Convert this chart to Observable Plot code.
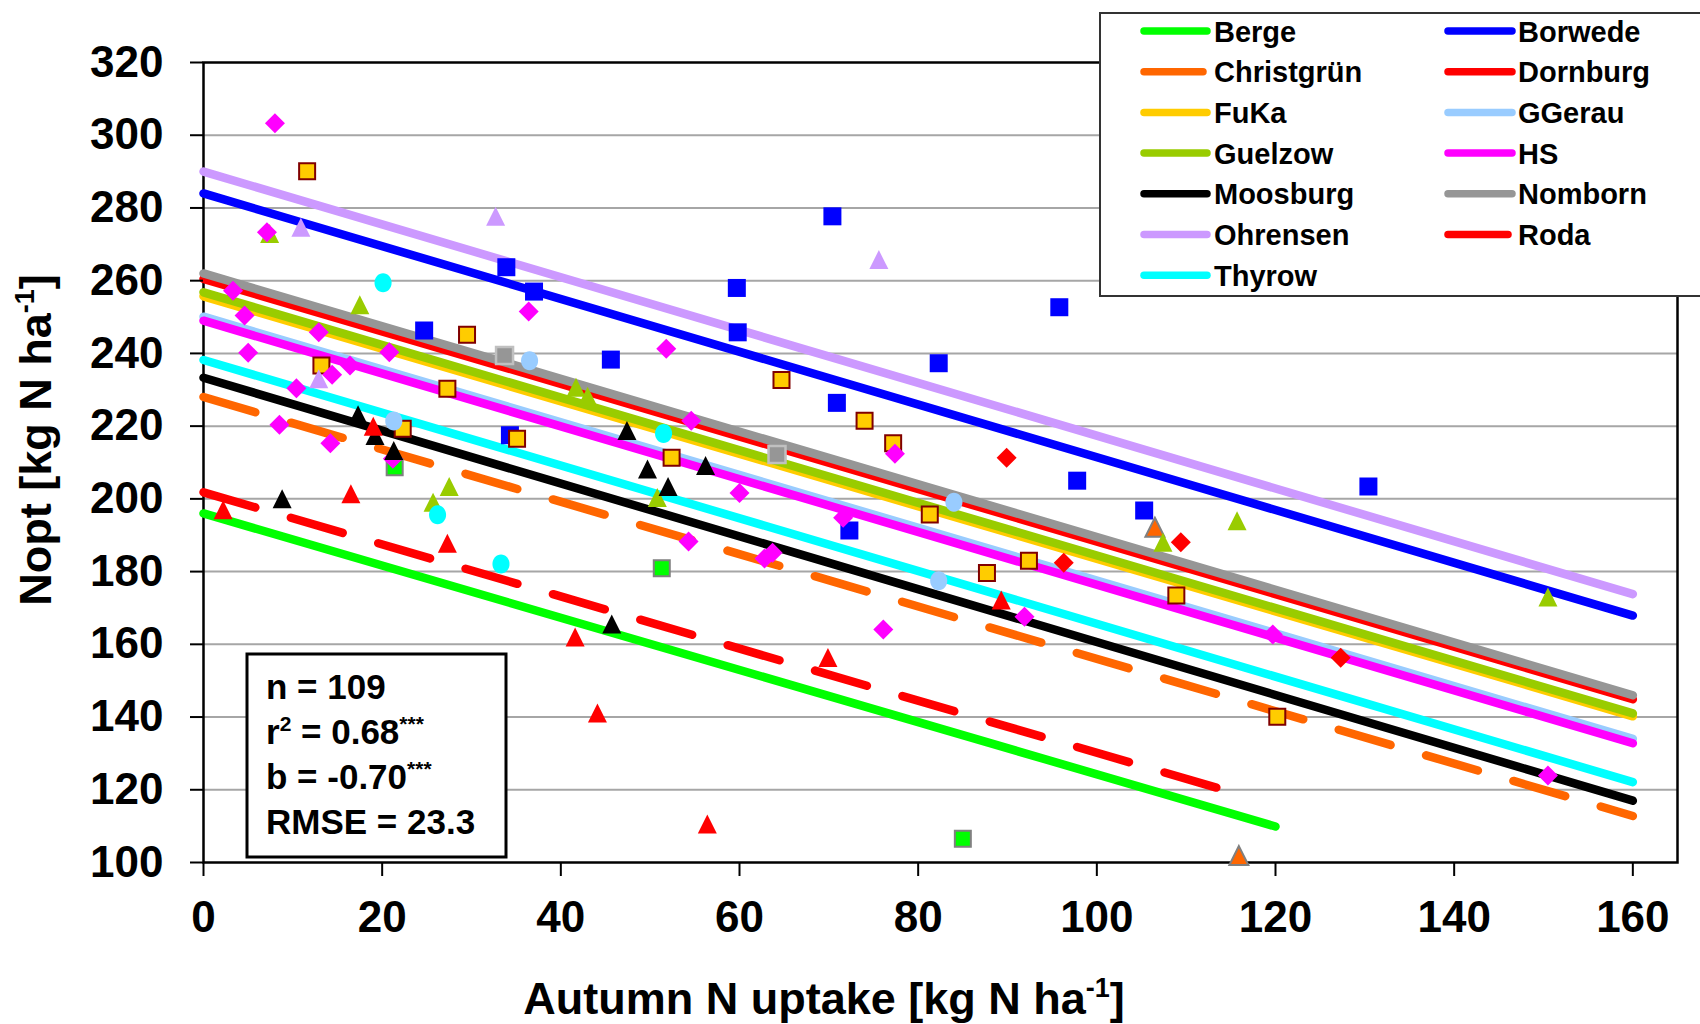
<!DOCTYPE html>
<html><head><meta charset="utf-8">
<script src="https://cdn.jsdelivr.net/npm/d3@7"></script>
<script src="https://cdn.jsdelivr.net/npm/@observablehq/plot@0.6"></script>
<style>
html,body{margin:0;padding:0;background:#fff;}
#chart svg{display:block;}
#chart svg text{font-weight:bold;}
</style></head><body><div id="chart"></div>
<script>
// ---- data ----
const sites = ["Berge","Borwede","Christgrün","Dornburg","FuKa","GGerau","Guelzow","HS","Moosburg","Nomborn","Ohrensen","Roda","Thyrow"];
// fitted lines: value at x = 0, end x, value at end x (same order as sites)
const lineStartY = [196.0, 284.0, 228.0, 260.5, 255.7, 250.1, 256.8, 249.0, 233.3, 262.0, 290.0, 201.8, 238.2];
const lineEndX   = [120, 160, 160, 160, 160, 160, 160, 160, 160, 160, 160, 117, 160];
const lineEndY   = [109.9, 167.9, 112.8, 144.9, 140.2, 134.0, 141.0, 132.8, 117.0, 146.0, 173.8, 118.0, 122.1];

const ptsBerge = [[21.4,208.7],[51.3,180.9],[85.0,106.5]];
const ptsBorwede = [[24.7,246.3],[33.9,263.7],[34.3,217.5],[37.0,257.0],[45.6,238.3],[59.7,258.0],[59.8,245.8],[70.4,277.7],[70.9,226.4],[72.3,191.3],[82.3,237.3],[95.8,252.7],[97.8,205.0],[105.3,196.8],[130.4,203.4]];
const ptsChristgruen = [[106.5,192.2],[115.9,101.9]];
const ptsDornburg = [[89.9,211.3],[96.3,182.4],[109.4,188.1],[127.3,156.3]];
const ptsFuKa = [[11.6,290.1],[13.2,236.7],[22.3,219.3],[27.3,230.3],[29.5,245.1],[35.1,216.5],[52.4,211.3],[64.7,232.7],[74.0,221.5],[77.2,215.3],[81.3,195.7],[87.7,179.6],[92.4,183.0],[108.9,173.4],[120.2,140.1]];
const ptsGGerau = [[21.3,221.4],[36.5,238.0],[82.3,177.5],[84.0,199.1]];
const ptsGuelzow = [[7.4,273.0],[17.5,253.4],[25.7,199.1],[27.5,203.4],[41.7,230.7],[43.0,228.2],[50.8,200.4],[107.4,188.1],[115.7,194.0],[150.5,173.0]];
const ptsHS = [[3.3,257.2],[4.6,250.4],[5.0,240.2],[7.1,273.3],[8.0,303.3],[8.5,220.4],[10.4,230.4],[12.9,245.8],[14.2,215.3],[14.4,234.1],[16.4,236.7],[20.8,240.3],[21.2,211.0],[36.4,251.5],[51.8,241.3],[54.3,188.3],[54.6,221.5],[60.0,201.6],[62.8,183.6],[63.7,185.2],[71.6,194.8],[76.1,164.1],[77.4,212.4],[91.9,167.6],[119.7,162.7],[150.5,123.9]];
const ptsMoosburg = [[8.8,200.0],[17.3,223.1],[19.2,217.4],[21.3,213.3],[45.7,165.6],[47.4,218.8],[49.7,208.2],[52.0,203.4],[56.2,209.2]];
const ptsNomborn = [[33.7,239.4],[64.2,212.2]];
const ptsOhrensen = [[10.9,274.7],[12.9,233.0],[32.7,277.7],[75.6,265.8]];
const ptsRoda = [[2.2,197.0],[16.5,201.4],[19.0,220.0],[27.3,187.8],[41.6,162.0],[44.1,141.1],[56.4,110.6],[69.9,156.4],[89.3,172.2]];
const ptsThyrow = [[20.1,259.4],[26.2,195.6],[33.3,182.1],[51.5,218.0]];
const sitePoints = [ptsBerge, ptsBorwede, ptsChristgruen, ptsDornburg, ptsFuKa, ptsGGerau, ptsGuelzow, ptsHS, ptsMoosburg, ptsNomborn, ptsOhrensen, ptsRoda, ptsThyrow];

const xTicks = [0,20,40,60,80,100,120,140,160];
const yTicks = [100,120,140,160,180,200,220,240,260,280,300,320];
const gridTicks = [120,140,160,180,200,220,240,260,280,300];
const statN = "109", statR2 = "0.68", statB = "-0.70", statRMSE = "23.3";

// ---- styles ----
const siteColors = ["#00FF00","#0000FF","#FF6600","#FF0000","#FFCC00","#99CCFF","#99CC00","#FF00FF","#000000","#969696","#CC99FF","#FF0000","#00FFFF"];
const dashed = {"Christgrün": true, "Roda": true};
const DASH = "54,37";

const symSquare = {draw(c, size){const h=Math.sqrt(size/Math.PI); c.moveTo(-h,-h); c.lineTo(h,-h); c.lineTo(h,h); c.lineTo(-h,h); c.closePath();}};
const symDiamond = {draw(c, size){const h=Math.sqrt(size/Math.PI); c.moveTo(0,-h); c.lineTo(h,0); c.lineTo(0,h); c.lineTo(-h,0); c.closePath();}};
const symTriangle = {draw(c, size){const h=Math.sqrt(size/Math.PI); c.moveTo(0,-h); c.lineTo(h,h); c.lineTo(-h,h); c.closePath();}};
const symEllipse = {draw(c, size){const h=Math.sqrt(size/Math.PI); const rx=h*0.9, ry=h, k=0.5523;
  c.moveTo(rx,0); c.bezierCurveTo(rx,ry*k,rx*k,ry,0,ry); c.bezierCurveTo(-rx*k,ry,-rx,ry*k,-rx,0);
  c.bezierCurveTo(-rx,-ry*k,-rx*k,-ry,0,-ry); c.bezierCurveTo(rx*k,-ry,rx,-ry*k,rx,0); c.closePath();}};
const markerStyle = {
  "Berge":      {symbol: symSquare,   r: 8,   stroke: "#808080", strokeWidth: 2},
  "Borwede":    {symbol: symSquare,   r: 9,   stroke: "none", strokeWidth: 0},
  "Christgrün": {symbol: symTriangle, r: 9.5, stroke: "#808080", strokeWidth: 2},
  "Dornburg":   {symbol: symDiamond,  r: 10,  stroke: "none", strokeWidth: 0},
  "FuKa":       {symbol: symSquare,   r: 8,   stroke: "#800000", strokeWidth: 2},
  "GGerau":     {symbol: symEllipse,  r: 9.5, stroke: "none", strokeWidth: 0},
  "Guelzow":    {symbol: symTriangle, r: 9.5, stroke: "none", strokeWidth: 0},
  "HS":         {symbol: symDiamond,  r: 10,  stroke: "none", strokeWidth: 0},
  "Moosburg":   {symbol: symTriangle, r: 9.5, stroke: "none", strokeWidth: 0},
  "Nomborn":    {symbol: symSquare,   r: 8.5, stroke: "#C0C0C0", strokeWidth: 2.5},
  "Ohrensen":   {symbol: symTriangle, r: 9.5, stroke: "none", strokeWidth: 0},
  "Roda":       {symbol: symTriangle, r: 9.5, stroke: "none", strokeWidth: 0},
  "Thyrow":     {symbol: symEllipse,  r: 9.5, stroke: "none", strokeWidth: 0}
};

const FONT = "'Liberation Sans', Arial, Helvetica, sans-serif";

const lineMarks = sites.map((s, i) => Plot.line(
  [{x: 0, y: lineStartY[i]}, {x: lineEndX[i], y: lineEndY[i]}],
  {x: "x", y: "y", stroke: siteColors[i], strokeWidth: 8.5, strokeLinecap: "round",
   strokeDasharray: dashed[s] ? DASH : null}
));
const dotMarks = sites.map((s, i) => {
  const m = markerStyle[s];
  return Plot.dot(sitePoints[i], {x: d => d[0], y: d => d[1], symbol: m.symbol, r: m.r,
    fill: siteColors[i], stroke: m.stroke, strokeWidth: m.strokeWidth});
});

const svg = Plot.plot({
  width: 1700, height: 1024,
  marginLeft: 203, marginRight: 23, marginTop: 62, marginBottom: 162,
  style: {fontFamily: FONT, background: "#fff", color: "#000"},
  x: {domain: [0, 165], nice: false},
  y: {domain: [100, 320], nice: false},
  marks: [
    Plot.gridY(gridTicks, {stroke: "#a6a6a6", strokeOpacity: 1, strokeWidth: 2}),
    Plot.frame({stroke: "#000", strokeWidth: 2.5}),
    ...lineMarks,
    ...dotMarks,
    Plot.axisX(xTicks, {anchor: "bottom", tickSize: 14, tickPadding: 24, fontSize: 44, label: null, strokeWidth: 2}),
    Plot.axisY(yTicks, {anchor: "left", tickSize: 13, tickPadding: 27, fontSize: 44, label: null, strokeWidth: 2})
  ]
});
document.getElementById("chart").appendChild(svg);

// ---- titles, stats box and legend ----
const root = d3.select(svg);
const xt = root.append("text").attr("x", 824).attr("y", 1014).attr("text-anchor", "middle")
  .style("font-family", FONT).style("font-size", "45px").attr("fill", "#000");
xt.append("tspan").text("Autumn N uptake [kg N ha");
xt.append("tspan").attr("dy", -17).style("font-size", "27px").text("-1");
xt.append("tspan").attr("dy", 17).text("]");

const yt = root.append("text").attr("transform", "translate(51,440) rotate(-90)").attr("text-anchor", "middle")
  .style("font-family", FONT).style("font-size", "45px").attr("fill", "#000");
yt.append("tspan").text("Nopt [kg N ha");
yt.append("tspan").attr("dy", -17).style("font-size", "27px").text("-1");
yt.append("tspan").attr("dy", 17).text("]");

// stats box
root.append("rect").attr("x", 247).attr("y", 654).attr("width", 259).attr("height", 203)
  .attr("fill", "#fff").attr("stroke", "#000").attr("stroke-width", 3);
const statTexts = [
  [{t: "n = " + statN}],
  [{t: "r"}, {t: "2", sup: true}, {t: " = " + statR2}, {t: "***", sup: true}],
  [{t: "b = " + statB}, {t: "***", sup: true}],
  [{t: "RMSE = " + statRMSE}]
];
statTexts.forEach((parts, i) => {
  const tx = root.append("text").attr("x", 266).attr("y", 699 + i * 45).attr("text-anchor", "start")
    .style("font-family", FONT).style("font-size", "35px").attr("fill", "#000");
  let raised = false;
  parts.forEach(p => {
    const ts = tx.append("tspan").text(p.t);
    if (p.sup && !raised) { ts.attr("dy", -13).style("font-size", "21px"); raised = true; }
    else if (!p.sup && raised) { ts.attr("dy", 13); raised = false; }
  });
});

// legend
const lg = root.append("g");
lg.append("rect").attr("x", 1100).attr("y", 13).attr("width", 620).attr("height", 283)
  .attr("fill", "#fff").attr("stroke", "#333").attr("stroke-width", 2);
sites.forEach((s, i) => {
  const col = i % 2, row = Math.floor(i / 2);
  const cy = 31 + row * 40.7;
  const x0 = col === 0 ? 1144 : 1448;
  const x1 = col === 0 ? 1207 : 1512;
  lg.append("line").attr("x1", x0).attr("x2", dashed[s] ? x1 - 4 : x1).attr("y1", cy).attr("y2", cy)
    .attr("stroke", siteColors[i]).attr("stroke-width", 7.5).attr("stroke-linecap", "round");
  lg.append("text").attr("x", col === 0 ? 1214 : 1518).attr("y", cy + 10.5).attr("text-anchor", "start")
    .style("font-family", FONT).style("font-size", "29px").attr("fill", "#000").text(s);
});
</script></body></html>
